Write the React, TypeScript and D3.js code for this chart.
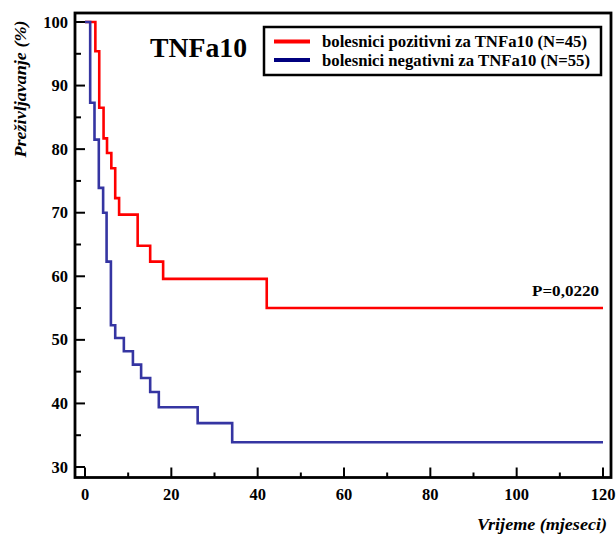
import React from "react";
import * as d3 from "d3";

const redTimes = [0, 2.4, 3.3, 4.3, 5.1, 6.1, 7.0, 7.9, 12.2, 15.1, 18.1, 42.1, 120];
const redSurv = [100, 95.4, 86.5, 81.7, 79.4, 77.0, 72.3, 69.7, 64.8, 62.3, 59.6, 55.0, 55.0];
const blueTimes = [0, 1.2, 2.2, 3.2, 4.2, 5.0, 6.0, 7.0, 9.0, 11.1, 13.0, 15.1, 17.1, 26.1, 34.1, 120];
const blueSurv = [100, 87.3, 81.5, 73.9, 70.0, 62.3, 52.3, 50.3, 48.2, 46.1, 44.0, 41.8, 39.4, 36.9, 33.9, 33.9];
const xMajorTicks = [0, 20, 40, 60, 80, 100, 120];
const xMinorTicks = [10, 30, 50, 70, 90, 110];
const yMajorTicks = [30, 40, 50, 60, 70, 80, 90, 100];
const yMinorTicks = [35, 45, 55, 65, 75, 85, 95];
const legendLabels = [
  "bolesnici pozitivni za TNFa10 (N=45)",
  "bolesnici negativni za TNFa10 (N=55)",
];
const title = "TNFa10";
const pValue = "P=0,0220";
const xLabel = "Vrijeme (mjeseci)";
const yLabel = "Preživljavanje (%)";

const RED = "#ff0000";
const BLUE = "#3535a2";
const LEGEND_BLUE = "#00007f";
const FONT = "'Liberation Serif', 'Times New Roman', serif";

export default function App() {
  const x = d3.scaleLinear().domain([0, 120]).range([85, 603]);
  const y = d3.scaleLinear().domain([30, 100]).range([467, 22]);
  const left = 75, right = 611, top = 13, bottom = 477.5;

  const line = d3
    .line<[number, number]>()
    .x((d) => x(d[0]))
    .y((d) => y(d[1]))
    .curve(d3.curveStepAfter);

  const redPts = redTimes.map((t, i) => [t, redSurv[i]] as [number, number]);
  const bluePts = blueTimes.map((t, i) => [t, blueSurv[i]] as [number, number]);

  return (
    <svg width={616} height={537} style={{ position: "absolute", left: 0, top: 0 }}>
      <rect x={0} y={0} width={616} height={537} fill="#fff" />
      {/* curves */}
      <path d={line(redPts) || ""} fill="none" stroke={RED} strokeWidth={2.6} />
      <path d={line(bluePts) || ""} fill="none" stroke={BLUE} strokeWidth={2.6} />

      {/* frame */}
      <rect x={left} y={top} width={right - left} height={bottom - top} fill="none" stroke="#000" strokeWidth={2.8} />

      {/* y ticks */}
      {yMajorTicks.map((v) => (
        <g key={"ym" + v}>
          <line x1={left} x2={left + 10} y1={y(v)} y2={y(v)} stroke="#000" strokeWidth={2} />
          <text x={68} y={y(v) + 5.5} textAnchor="end" fontFamily={FONT} fontWeight="bold" fontSize={16.5}>
            {v}
          </text>
        </g>
      ))}
      {yMinorTicks.map((v) => (
        <line key={"yn" + v} x1={left} x2={left + 6} y1={y(v)} y2={y(v)} stroke="#000" strokeWidth={2} />
      ))}
      {/* x ticks */}
      {xMajorTicks.map((v) => (
        <g key={"xm" + v}>
          <line x1={x(v)} x2={x(v)} y1={bottom} y2={bottom - 10} stroke="#000" strokeWidth={2} />
          <text x={x(v)} y={500} textAnchor="middle" fontFamily={FONT} fontWeight="bold" fontSize={16.5}>
            {v}
          </text>
        </g>
      ))}
      {xMinorTicks.map((v) => (
        <line key={"xn" + v} x1={x(v)} x2={x(v)} y1={bottom} y2={bottom - 5} stroke="#000" strokeWidth={2} />
      ))}

      {/* axis labels */}
      <text x={607} y={530} textAnchor="end" fontFamily={FONT} fontWeight="bold" fontStyle="italic" fontSize={17} textLength={130} lengthAdjust="spacingAndGlyphs">
        {xLabel}
      </text>
      <text transform="translate(26,89) rotate(-90)" textAnchor="middle" fontFamily={FONT} fontWeight="bold" fontStyle="italic" fontSize={17} textLength={137} lengthAdjust="spacingAndGlyphs">
        {yLabel}
      </text>

      {/* title */}
      <text x={150} y={57} fontFamily={FONT} fontWeight="bold" fontSize={27} textLength={97} lengthAdjust="spacingAndGlyphs">
        {title}
      </text>

      {/* legend */}
      <rect x={264} y={27} width={337} height={48} fill="#fff" stroke="#000" strokeWidth={2.5} />
      <line x1={274} x2={310} y1={41.5} y2={41.5} stroke={RED} strokeWidth={4} />
      <line x1={274} x2={310} y1={60} y2={60} stroke={LEGEND_BLUE} strokeWidth={4} />
      <text x={322} y={47} fontFamily={FONT} fontWeight="bold" fontSize={16} textLength={265} lengthAdjust="spacingAndGlyphs">
        {legendLabels[0]}
      </text>
      <text x={322} y={66} fontFamily={FONT} fontWeight="bold" fontSize={16} textLength={268} lengthAdjust="spacingAndGlyphs">
        {legendLabels[1]}
      </text>

      {/* p-value */}
      <text x={599} y={296} textAnchor="end" fontFamily={FONT} fontWeight="bold" fontSize={15} textLength={67} lengthAdjust="spacingAndGlyphs">
        {pValue}
      </text>
    </svg>
  );
}
